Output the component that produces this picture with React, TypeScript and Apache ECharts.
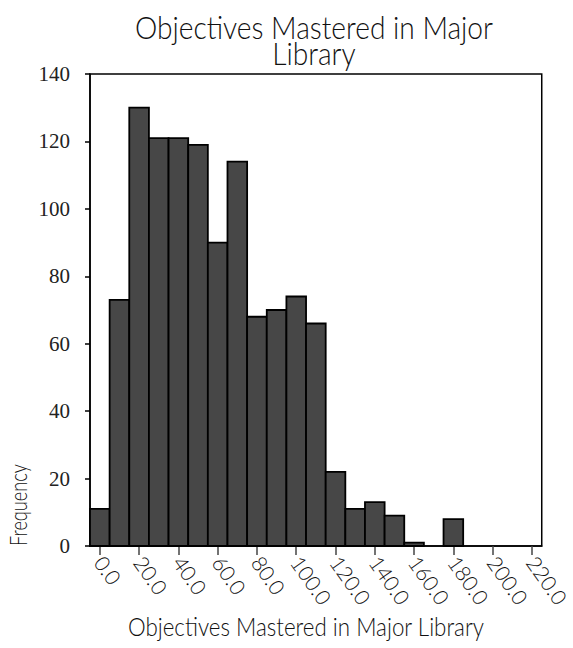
import React, { useEffect, useRef } from "react";
import * as echarts from "echarts";

const binCenters = [0, 10, 20, 30, 40, 50, 60, 70, 80, 90, 100, 110, 120, 130, 140, 150, 160, 170, 180, 190, 200, 210, 220];
const counts = [11, 73, 130, 121, 121, 119, 90, 114, 68, 70, 74, 66, 22, 11, 13, 9, 1, 0, 8, 0, 0, 0, 0];
const binWidth = 10;
const xTickValues = [0, 20, 40, 60, 80, 100, 120, 140, 160, 180, 200, 220];
const titleLines = ["Objectives Mastered in Major", "Library"];
const xName = "Objectives Mastered in Major Library";
const yName = "Frequency";

const SANS = "Lato, 'Open Sans', sans-serif";
const INK = "#111";

export default function App() {
  const ref = useRef<HTMLDivElement>(null);
  useEffect(() => {
    if (!ref.current) return;
    const chart = echarts.init(ref.current, null, { renderer: "svg" });
    const data = binCenters.map((c, i) => [c, counts[i]]);
    chart.setOption({
      animation: false,
      backgroundColor: "#fff",
      grid: {
        left: 90,
        right: 31,
        top: 74,
        bottom: 102,
        show: true,
        borderColor: "#000",
        borderWidth: 1.5,
        backgroundColor: "transparent",
      },
      xAxis: {
        type: "value",
        min: -5,
        max: 225,
        axisLine: { show: true, onZero: false, lineStyle: { color: "#000", width: 1.5 } },
        splitLine: { show: false },
        axisTick: { show: true, length: 9, customValues: xTickValues, lineStyle: { color: "#444", width: 1.5 } },
        axisLabel: {
          customValues: xTickValues,
          rotate: -55,
          margin: 12,
          fontFamily: SANS,
          fontWeight: 300,
          fontSize: 21,
          color: INK,
          formatter: (v: number) => v.toFixed(1),
        },
      },
      yAxis: {
        type: "value",
        min: 0,
        max: 140,
        interval: 20,
        axisLine: { show: true, onZero: false, lineStyle: { color: "#000", width: 1.5 } },
        splitLine: { show: false },
        axisTick: { show: true, length: 5, lineStyle: { color: "#000", width: 1.5 } },
        axisLabel: {
          margin: 20,
          fontFamily: "'Liberation Serif', serif",
          fontSize: 21,
          color: "#222",
        },
      },
      graphic: [
        {
          type: "text",
          x: 314,
          y: 26,
          scaleX: 0.88,
          style: { text: titleLines[0], font: `300 32px ${SANS}`, fill: INK, textAlign: "center", textVerticalAlign: "middle" },
        },
        {
          type: "text",
          x: 314,
          y: 52,
          scaleX: 0.88,
          style: { text: titleLines[1], font: `300 32px ${SANS}`, fill: INK, textAlign: "center", textVerticalAlign: "middle" },
        },
        {
          type: "text",
          x: 306,
          y: 626,
          scaleX: 0.86,
          style: { text: xName, font: `300 26px ${SANS}`, fill: INK, textAlign: "center", textVerticalAlign: "middle" },
        },
        {
          type: "text",
          x: 18,
          y: 505,
          rotation: Math.PI / 2,
          scaleX: 0.79,
          style: { text: yName, font: `300 23px ${SANS}`, fill: INK, textAlign: "center", textVerticalAlign: "middle" },
        },
      ],
      series: [
        {
          type: "custom",
          data,
          clip: false,
          renderItem: (params: any, api: any) => {
            const c = api.value(0);
            const v = api.value(1);
            if (!v) return null;
            const p0 = api.coord([c - binWidth / 2, v]);
            const p1 = api.coord([c + binWidth / 2, 0]);
            return {
              type: "rect",
              shape: { x: p0[0], y: p0[1], width: p1[0] - p0[0], height: p1[1] - p0[1] },
              style: { fill: "#474747", stroke: "#000", lineWidth: 1.8 },
            };
          },
        },
      ],
    });
    return () => chart.dispose();
  }, []);
  return <div ref={ref} style={{ position: "absolute", left: 0, top: 0, width: 573, height: 648 }} />;
}
